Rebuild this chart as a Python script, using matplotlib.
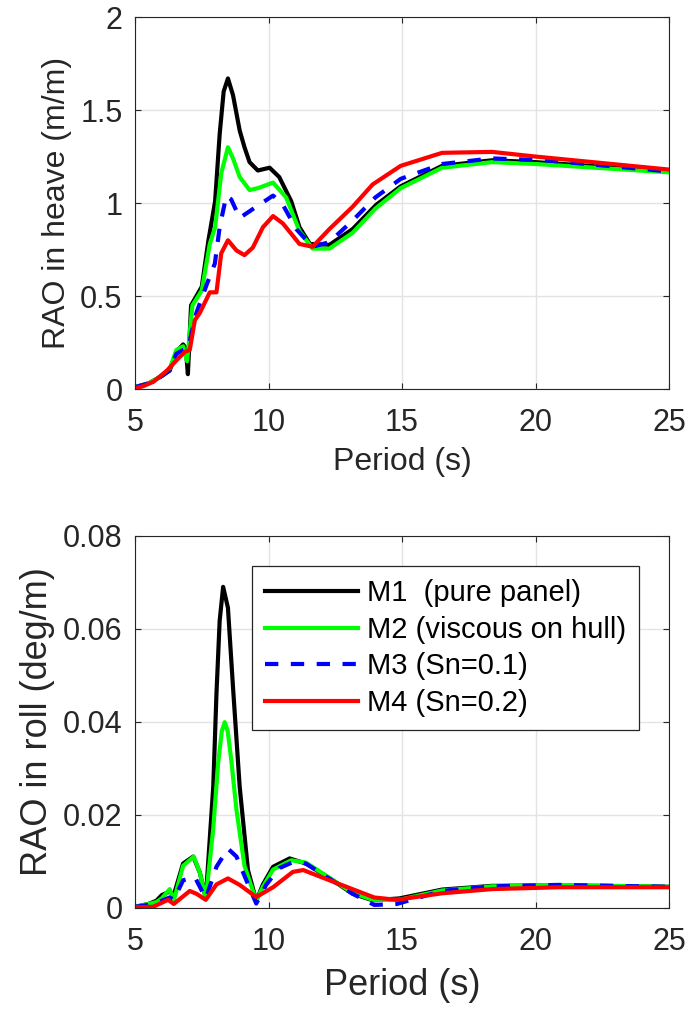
import matplotlib
matplotlib.use("Agg")
import matplotlib.pyplot as plt

plt.rcParams["font.family"] = ["Liberation Sans", "DejaVu Sans"]

# heave RAO (m/m) -- period (s), value
m1_heave_t = [5.0, 5.5, 6.0, 6.3, 6.55, 6.8, 6.9, 6.98, 7.05, 7.1, 7.5, 7.75, 8.0, 8.17,
              8.32, 8.48, 8.67, 8.92, 9.1, 9.29, 9.6, 10.04, 10.4, 10.85, 11.16, 11.55, 12.28,
              13.15, 14.03, 14.95, 16.5, 18.37, 20.0, 25.0]
m1_heave = [0.01, 0.03, 0.07, 0.10, 0.20, 0.24, 0.22, 0.08, 0.30, 0.45, 0.55, 0.80, 1.01, 1.37,
            1.60, 1.67, 1.58, 1.39, 1.30, 1.22, 1.175, 1.19, 1.14, 1.01, 0.87, 0.78, 0.775,
            0.86, 0.99, 1.09, 1.20, 1.23, 1.22, 1.17]

m2_heave_t = [5.0, 5.5, 6.0, 6.3, 6.55, 6.8, 6.95, 7.05, 7.15, 7.5, 7.8, 8.0, 8.23, 8.48,
              8.67, 8.92, 9.29, 9.6, 10.17, 10.66, 11.16, 11.65, 12.28, 13.15, 14.0, 14.95,
              16.5, 18.37, 20.0, 25.0]
m2_heave = [0.01, 0.03, 0.07, 0.11, 0.21, 0.23, 0.15, 0.30, 0.45, 0.53, 0.78, 0.87, 1.16, 1.30,
            1.24, 1.14, 1.07, 1.08, 1.11, 1.03, 0.85, 0.755, 0.755, 0.84, 0.97, 1.08,
            1.19, 1.22, 1.21, 1.165]

m3_heave_t = [5.0, 5.5, 6.0, 6.3, 6.55, 6.8, 7.0, 7.11, 7.3, 7.68, 7.99, 8.17, 8.42, 8.6,
              8.92, 9.54, 10.17, 10.54, 11.04, 11.65, 12.28, 13.15, 14.0, 14.95, 16.5,
              18.37, 20.36, 25.0]
m3_heave = [0.01, 0.03, 0.07, 0.10, 0.19, 0.21, 0.22, 0.30, 0.41, 0.56, 0.675, 0.87, 1.04, 1.02,
            0.92, 0.98, 1.04, 0.99, 0.86, 0.765, 0.79, 0.906, 1.03, 1.13, 1.21,
            1.24, 1.23, 1.17]

m4_heave_t = [5.0, 5.3, 5.7, 6.2, 6.62, 6.87, 7.05, 7.24, 7.43, 7.8, 8.05, 8.23, 8.48, 8.8,
              9.1, 9.41, 9.79, 10.17, 10.54, 11.16, 11.65, 12.28, 13.15, 13.9, 14.95, 16.5,
              18.37, 20.0, 25.0]
m4_heave = [0.005, 0.015, 0.04, 0.10, 0.165, 0.20, 0.21, 0.37, 0.41, 0.52, 0.52, 0.73, 0.80, 0.745,
            0.72, 0.76, 0.87, 0.93, 0.89, 0.78, 0.765, 0.86, 0.98, 1.10, 1.20, 1.27,
            1.275, 1.25, 1.18]

# roll RAO (deg/m)
m1_roll_t = [5.0, 5.5, 5.8, 6.0, 6.3, 6.45, 6.8, 7.18, 7.43, 7.65, 7.93, 8.05, 8.17, 8.3, 8.48,
             8.67, 8.92, 9.23, 9.54, 9.79, 10.17, 10.79, 11.4, 12.4, 13.15, 13.9, 14.9,
             16.5, 18.37, 20.86, 25.0]
m1_roll = [0.0002, 0.0008, 0.0015, 0.0027, 0.0035, 0.0027, 0.0095, 0.011, 0.0075, 0.002, 0.026,
           0.046, 0.0617, 0.069, 0.0645, 0.0474, 0.026, 0.0081, 0.0015, 0.005, 0.0088, 0.0106,
           0.0095, 0.0059, 0.003, 0.0016, 0.002, 0.0039, 0.0047, 0.0048, 0.0045]

m2_roll_t = [5.0, 5.5, 5.8, 6.0, 6.3, 6.45, 6.8, 7.2, 7.43, 7.65, 7.93, 8.11, 8.25, 8.36, 8.47,
             8.6, 8.8, 9.1, 9.54, 9.79, 10.17, 10.85, 11.4, 12.4, 13.15, 13.9, 14.9, 16.5,
             18.37, 20.86, 25.0]
m2_roll = [0.0002, 0.0008, 0.0012, 0.002, 0.004, 0.0015, 0.009, 0.011, 0.0075, 0.002, 0.017,
           0.031, 0.038, 0.0399, 0.038, 0.032, 0.021, 0.009, 0.0015, 0.0045, 0.0082, 0.0102,
           0.0097, 0.006, 0.0032, 0.0017, 0.0017, 0.0037, 0.0046, 0.0049, 0.0045]

m3_roll_t = [5.0, 5.5, 6.0, 6.3, 6.45, 6.8, 7.24, 7.65, 8.05, 8.48, 8.8, 9.17, 9.54, 9.92,
             10.4, 10.91, 11.4, 12.4, 13.15, 13.96, 14.8, 16.5, 18.37, 20.86, 25.0]
m3_roll = [0.0002, 0.0006, 0.0015, 0.0022, 0.0017, 0.0059, 0.0066, 0.002, 0.0088, 0.0127, 0.011,
           0.0059, 0.0009, 0.005, 0.0085, 0.0098, 0.0095, 0.0058, 0.003, 0.0006, 0.0008,
           0.0036, 0.0046, 0.0049, 0.0045]

m4_roll_t = [5.0, 5.68, 6.24, 6.45, 7.05, 7.3, 7.65, 8.05, 8.48, 8.92, 9.54, 10.17, 10.91,
             11.3, 12.28, 13.96, 14.8, 16.5, 18.37, 20.86, 25.0]
m4_roll = [0.0001, 0.0002, 0.0017, 0.0008, 0.0036, 0.003, 0.0017, 0.005, 0.0063, 0.0049, 0.0023,
           0.0044, 0.0077, 0.0081, 0.0059, 0.0022, 0.0017, 0.0031, 0.004, 0.0044, 0.0044]

labels = ["M1  (pure panel)", "M2 (viscous on hull)", "M3 (Sn=0.1)", "M4 (Sn=0.2)"]

TXT = "#262626"


def style_axes(ax, ylim, yticks):
    ax.set_xlim(5, 25)
    ax.set_ylim(*ylim)
    ax.set_xticks([5, 10, 15, 20, 25])
    ax.set_yticks(yticks)
    ax.grid(True, color="#e3e3e3", linewidth=1.0)
    ax.set_axisbelow(True)
    ax.tick_params(direction="in", top=True, right=True, length=4, width=0.8,
                   color=TXT, labelcolor=TXT, labelsize=22)
    ax.tick_params(axis="x", pad=14)
    ax.tick_params(axis="y", pad=9)
    for s in ax.spines.values():
        s.set_color(TXT)
        s.set_linewidth(0.8)


def draw(ax, series):
    lines = []
    for (t, v), col, ls in zip(series, ["k", "#00ff00", "#0000ff", "#ff0000"],
                               ["-", "-", "--", "-"]):
        ln, = ax.plot(t, v, color=col, linewidth=3, linestyle=ls)
        if ls == "--":
            ln.set_dashes((3.2, 3.0))
        lines.append(ln)
    return lines


fig = plt.figure(figsize=(6.91, 10.15), dpi=100)

ax1 = fig.add_axes([0.1954, 0.6167, 0.7728, 0.3665])
draw(ax1, [(m1_heave_t, m1_heave), (m2_heave_t, m2_heave),
           (m3_heave_t, m3_heave), (m4_heave_t, m4_heave)])
style_axes(ax1, (0, 2), [0, 0.5, 1, 1.5, 2])
ax1.set_yticklabels(["0", "0.5", "1", "1.5", "2"])
ax1.set_xlabel("Period (s)", fontsize=23, color=TXT, labelpad=6)
ax1.set_ylabel("RAO in heave (m/m)", fontsize=23, color=TXT, labelpad=6)

ax2 = fig.add_axes([0.1954, 0.1057, 0.7728, 0.3665])
lines = draw(ax2, [(m1_roll_t, m1_roll), (m2_roll_t, m2_roll),
                   (m3_roll_t, m3_roll), (m4_roll_t, m4_roll)])
style_axes(ax2, (0, 0.08), [0, 0.02, 0.04, 0.06, 0.08])
ax2.set_yticklabels(["0", "0.02", "0.04", "0.06", "0.08"])
ax2.set_xlabel("Period (s)", fontsize=26, color=TXT, labelpad=8)
ax2.set_ylabel("RAO in roll (deg/m)", fontsize=26, color=TXT, labelpad=6)

leg = ax2.legend(lines, labels, loc="upper left", bbox_to_anchor=(0.219, 0.919),
                 borderaxespad=0, fontsize=21, fancybox=False, framealpha=1,
                 edgecolor=TXT, handlelength=3.2, handletextpad=0.3,
                 labelspacing=0.3, borderpad=0.45)
leg.get_frame().set_linewidth(0.9)

fig.savefig("out.png", dpi=100)
